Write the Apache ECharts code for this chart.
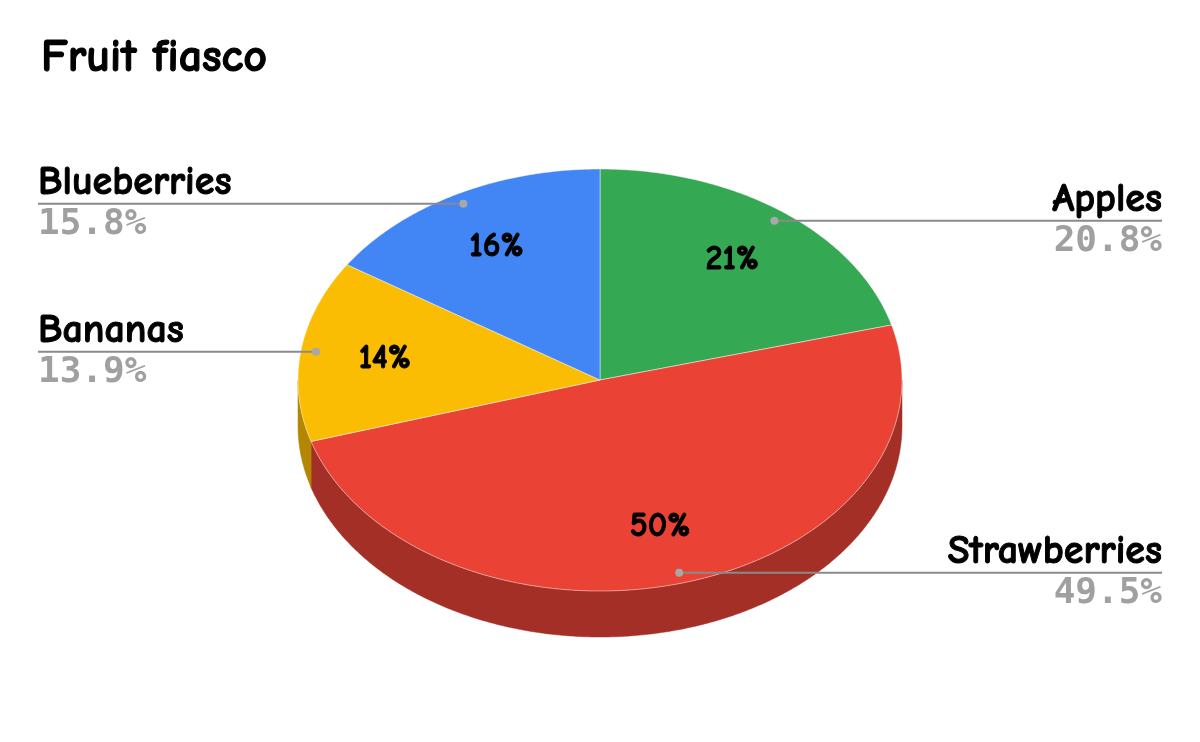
<!DOCTYPE html>
<html>
<head>
<meta charset="utf-8">
<script src="https://cdn.jsdelivr.net/npm/echarts@6/dist/echarts.min.js"></script>
<style>
html,body{margin:0;padding:0;background:#fff;}
#chart{width:1200px;height:742px;}
</style>
</head>
<body>
<div id="chart"></div>
<script>
// ---- data ----
const categories = ['Apples', 'Strawberries', 'Bananas', 'Blueberries'];
const values = [20.8, 49.5, 13.9, 15.8];
const chartTitle = 'Fruit fiasco';

// ---- styles ----
const topColors = ['#34A853', '#EA4335', '#FBBC04', '#4285F4'];
const sideColors = ['#247539', '#A32F26', '#B38703', '#2E5DAB'];
const labelFont = "'Comic Sans MS','Comic Neue','Open Sans',sans-serif";
const pctFont = "'DejaVu Sans Mono','Liberation Mono',monospace";

const CX = 600, CY = 380, RX = 302, RY = 211, DEPTH = 46;
const LEFT_X = 38, RIGHT_X = 1162;

const total = values.reduce((a, b) => a + b, 0);
const starts = [];
{ let acc = 0; values.forEach(v => { starts.push(acc); acc += v; }); }

function pt(theta, k, dy) {
  return [CX + RX * k * Math.sin(theta), CY - RY * k * Math.cos(theta) + (dy || 0)];
}
function arc(a, b, dy) {
  const pts = [];
  const n = Math.max(2, Math.ceil((b - a) / (Math.PI / 360)));
  for (let i = 0; i <= n; i++) pts.push(pt(a + (b - a) * i / n, 1, dy));
  return pts;
}

const chart = echarts.init(document.getElementById('chart'), null, { renderer: 'canvas' });

chart.setOption({
  animation: false,
  backgroundColor: '#ffffff',
  title: {
    text: chartTitle,
    left: 36,
    top: 30,
    textStyle: {
      fontFamily: labelFont, fontSize: 46, fontWeight: 'bold', color: '#000',
      textBorderColor: '#000', textBorderWidth: 1.1
    }
  },
  series: [{
    type: 'custom',
    coordinateSystem: 'none',
    data: values.map((v, i) => ({ value: [v, starts[i]], name: categories[i] })),
    renderItem: function (params, api) {
      const i = params.dataIndex;
      const v = api.value(0);
      const s = api.value(1);
      const a = s / total * Math.PI * 2;
      const b = (s + v) / total * Math.PI * 2;
      const mid = (a + b) / 2;
      const children = [];
      // side wall (front half only)
      const sa = Math.max(a, Math.PI / 2), sb = Math.min(b, Math.PI * 1.5);
      if (sa < sb) {
        const pts = arc(sa, sb, 0).concat(arc(sa, sb, DEPTH).reverse());
        children.push({
          type: 'polygon', z2: 1,
          shape: { points: pts },
          style: { fill: sideColors[i], stroke: sideColors[i], lineWidth: 0.5 }
        });
      }
      // top face
      const topPts = [[CX, CY]].concat(arc(a, b, 0));
      children.push({
        type: 'polygon', z2: 10,
        shape: { points: topPts },
        style: { fill: topColors[i], stroke: 'rgba(255,255,255,0.45)', lineWidth: 1 }
      });
      // inside label
      const ip = pt(mid, 0.72, 0);
      children.push({
        type: 'text', z2: 20,
        x: ip[0], y: ip[1],
        style: {
          text: Math.round(v / total * 100) + '%',
          fontFamily: labelFont, fontSize: 34, fontWeight: 'bold', fill: '#000',
          stroke: '#000', lineWidth: 0.9,
          align: 'center', verticalAlign: 'middle'
        }
      });
      // outside label + leader
      const dp = pt(mid, 0.95, 0);
      const isLeft = Math.sin(mid) < 0;
      const ex = isLeft ? LEFT_X : RIGHT_X;
      children.push({
        type: 'line', z2: 15,
        shape: { x1: ex, y1: dp[1], x2: dp[0], y2: dp[1] },
        style: { stroke: '#8a8a8a', lineWidth: 2 }
      });
      children.push({
        type: 'circle', z2: 16,
        shape: { cx: dp[0], cy: dp[1], r: 4 },
        style: { fill: '#a8a8a8' }
      });
      children.push({
        type: 'text', z2: 20,
        x: ex, y: dp[1] - 1,
        style: {
          text: categories[i],
          fontFamily: labelFont, fontSize: 40, fontWeight: 'bold', fill: '#000',
          stroke: '#000', lineWidth: 1.0,
          align: isLeft ? 'left' : 'right', verticalAlign: 'bottom'
        }
      });
      children.push({
        type: 'text', z2: 20,
        x: ex, y: dp[1] + 3,
        style: {
          text: (v / total * 100).toFixed(1) + '%',
          fontFamily: pctFont, fontSize: 36, fontWeight: 'bold', fill: '#a0a0a0',
          align: isLeft ? 'left' : 'right', verticalAlign: 'top'
        }
      });
      return { type: 'group', children: children };
    }
  }]
});
</script>
</body>
</html>
